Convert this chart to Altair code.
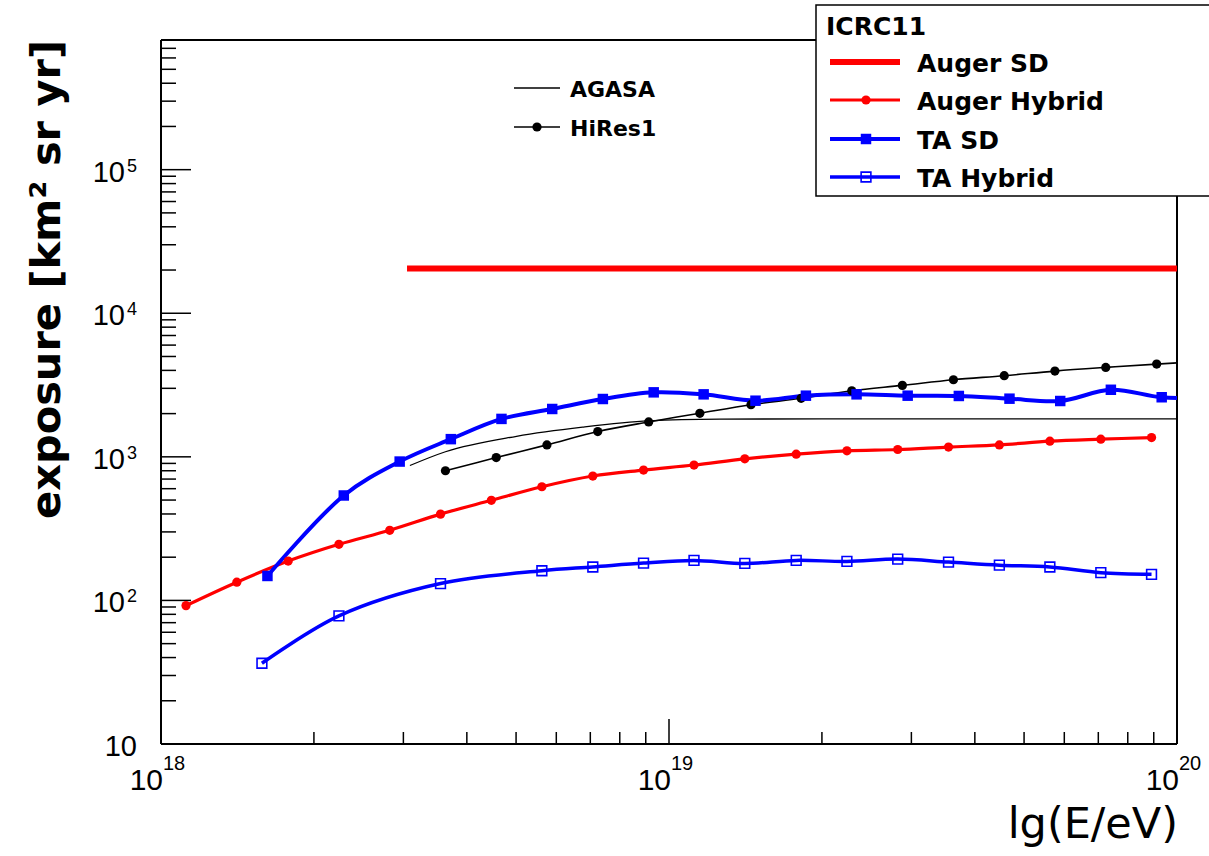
import altair as alt
import pandas as pd

# ---------------- data ----------------
auger_sd_E = [3.05e18, 1.0e20]
auger_sd_exposure = [20500, 20500]

auger_hybrid_E = [1.12e18, 1.41e18, 1.78e18, 2.24e18, 2.82e18, 3.55e18, 4.47e18, 5.62e18, 7.08e18, 8.91e18,
                  1.12e19, 1.41e19, 1.78e19, 2.24e19, 2.82e19, 3.55e19, 4.47e19, 5.62e19, 7.08e19, 8.91e19]
auger_hybrid_exposure = [92, 134, 188, 246, 308, 399, 498, 619, 735, 809,
                         877, 968, 1044, 1101, 1125, 1170, 1211, 1285, 1327, 1362]

ta_sd_E = [1.62e18, 2.29e18, 2.95e18, 3.72e18, 4.68e18, 5.89e18, 7.41e18, 9.33e18,
           1.17e19, 1.48e19, 1.86e19, 2.34e19, 2.95e19, 3.72e19, 4.68e19, 5.89e19, 7.41e19, 9.33e19, 1.17e20]
ta_sd_exposure = [148, 538, 927, 1328, 1837, 2154, 2528, 2813,
                  2724, 2460, 2666, 2724, 2666, 2654, 2541, 2448, 2931, 2600, 2560]

ta_hybrid_E = [1.58e18, 2.24e18, 3.55e18, 5.62e18, 7.08e18, 8.91e18, 1.12e19, 1.41e19,
               1.78e19, 2.24e19, 2.82e19, 3.55e19, 4.47e19, 5.62e19, 7.08e19, 8.91e19]
ta_hybrid_exposure = [36.5, 78, 131, 161, 171, 182, 190, 181, 190, 187, 194, 185, 176, 171, 156, 152]

hires1_E = [3.63e18, 4.57e18, 5.75e18, 7.24e18, 9.12e18, 1.15e19, 1.45e19, 1.82e19,
            2.29e19, 2.88e19, 3.63e19, 4.57e19, 5.75e19, 7.24e19, 9.12e19, 1.15e20]
hires1_exposure = [800, 988, 1211, 1500, 1750, 2011, 2306, 2557, 2885, 3145, 3443, 3672, 3956, 4197, 4426, 4650]

agasa_E = [3.09e18, 3.63e18, 5.01e18, 6.76e18, 9.12e18, 1.26e19, 2.0e19, 3.98e19, 1.0e20]
agasa_exposure = [870, 1085, 1390, 1610, 1780, 1830, 1840, 1840, 1840]

x_major_ticks = [1e18, 1e19, 1e20]
x_exp_labels = ["18", "19", "20"]
x_minor_ticks = [2e18, 3e18, 4e18, 5e18, 6e18, 7e18, 8e18, 9e18,
                 2e19, 3e19, 4e19, 5e19, 6e19, 7e19, 8e19, 9e19]
y_major_ticks = [10, 100, 1000, 10000, 100000]
y_exp_values = [100, 1000, 10000, 100000]
y_exp_labels = ["2", "3", "4", "5"]
y_minor_ticks = [20, 30, 40, 50, 60, 70, 80, 90,
                 200, 300, 400, 500, 600, 700, 800, 900,
                 2000, 3000, 4000, 5000, 6000, 7000, 8000, 9000,
                 20000, 30000, 40000, 50000, 60000, 70000, 80000, 90000,
                 200000, 300000, 400000, 500000, 600000, 700000]

legend_labels = ["Auger SD", "Auger Hybrid", "TA SD", "TA Hybrid"]
inner_legend_labels = ["AGASA", "HiRes1"]

# ---------------- chart ----------------
W, H = 1016, 704
FONT = "DejaVu Sans"
TFONT = "Liberation Sans"
RED = "#ff0000"
BLUE = "#0000ff"

xs = alt.Scale(type="log", domain=[1e18, 1e20])
ys = alt.Scale(type="log", domain=[10, 8e5])


def X():
    return alt.X("E:Q", scale=xs, axis=None)


def Y():
    return alt.Y("exposure:Q", scale=ys, axis=None)


def sdf(E, v):
    return pd.DataFrame({"E": E, "exposure": v})


dummy = pd.DataFrame({"k": [0]})
layers = []

# frame
base = alt.Chart(dummy)
layers += [
    base.mark_rule(color="black", strokeWidth=2).encode(x=alt.value(0), x2=alt.value(W), y=alt.value(0)),
    base.mark_rule(color="black", strokeWidth=2).encode(x=alt.value(0), x2=alt.value(W), y=alt.value(H)),
    base.mark_rule(color="black", strokeWidth=2).encode(x=alt.value(0), y=alt.value(0), y2=alt.value(H)),
    base.mark_rule(color="black", strokeWidth=2).encode(x=alt.value(W), y=alt.value(0), y2=alt.value(H)),
]

# ticks (inward)
layers += [
    alt.Chart(pd.DataFrame({"E": x_major_ticks})).mark_rule(color="black", strokeWidth=1.5)
    .encode(x=X(), y=alt.value(H), y2=alt.value(H - 25)),
    alt.Chart(pd.DataFrame({"E": x_minor_ticks})).mark_rule(color="black", strokeWidth=1.5)
    .encode(x=X(), y=alt.value(H), y2=alt.value(H - 12)),
    alt.Chart(pd.DataFrame({"exposure": y_major_ticks})).mark_rule(color="black", strokeWidth=1.5)
    .encode(y=Y(), x=alt.value(0), x2=alt.value(30)),
    alt.Chart(pd.DataFrame({"exposure": y_minor_ticks})).mark_rule(color="black", strokeWidth=1.5)
    .encode(y=Y(), x=alt.value(0), x2=alt.value(15)),
]

# tick labels
layers += [
    alt.Chart(pd.DataFrame({"E": x_major_ticks})).mark_text(
        text="10", align="right", baseline="alphabetic", font=TFONT, fontSize=30, dx=2, color="black")
    .encode(x=X(), y=alt.value(H + 46)),
    alt.Chart(pd.DataFrame({"E": x_major_ticks, "exp": x_exp_labels})).mark_text(
        align="left", baseline="alphabetic", font=TFONT, fontSize=20, dx=2, color="black")
    .encode(x=X(), y=alt.value(H + 26), text="exp:N"),
    alt.Chart(pd.DataFrame({"exposure": y_exp_values})).mark_text(
        text="10", align="right", baseline="alphabetic", font=TFONT, fontSize=29, dy=12, color="black")
    .encode(x=alt.value(-36), y=Y()),
    alt.Chart(pd.DataFrame({"exposure": y_exp_values, "exp": y_exp_labels})).mark_text(
        align="left", baseline="alphabetic", font=TFONT, fontSize=18, dy=2, color="black")
    .encode(x=alt.value(-34), y=Y(), text="exp:N"),
    alt.Chart(pd.DataFrame({"exposure": [10]})).mark_text(
        text="10", align="right", baseline="alphabetic", font=TFONT, fontSize=29, dy=12, color="black")
    .encode(x=alt.value(-24), y=Y()),
]

# data lines
layers += [
    alt.Chart(sdf(agasa_E, agasa_exposure)).mark_line(
        color="black", strokeWidth=1.3, interpolate="monotone", clip=True).encode(X(), Y()),
    alt.Chart(sdf(hires1_E, hires1_exposure)).mark_line(
        color="black", strokeWidth=1.6, interpolate="catmull-rom", clip=True).encode(X(), Y()),
    alt.Chart(sdf(auger_sd_E, auger_sd_exposure)).mark_line(
        color=RED, strokeWidth=6, clip=True).encode(X(), Y()),
    alt.Chart(sdf(auger_hybrid_E, auger_hybrid_exposure)).mark_line(
        color=RED, strokeWidth=3.2, interpolate="catmull-rom", clip=True).encode(X(), Y()),
    alt.Chart(sdf(ta_hybrid_E, ta_hybrid_exposure)).mark_line(
        color=BLUE, strokeWidth=3.5, interpolate="catmull-rom", clip=True).encode(X(), Y()),
    alt.Chart(sdf(ta_sd_E, ta_sd_exposure)).mark_line(
        color=BLUE, strokeWidth=4, interpolate="catmull-rom", clip=True).encode(X(), Y()),
]

# markers
flt = "datum.E <= 1e20"
layers += [
    alt.Chart(sdf(hires1_E, hires1_exposure)).transform_filter(flt).mark_point(
        shape="circle", filled=True, size=85, color="black", opacity=1).encode(X(), Y()),
    alt.Chart(sdf(auger_hybrid_E, auger_hybrid_exposure)).mark_point(
        shape="circle", filled=True, size=85, color=RED, opacity=1).encode(X(), Y()),
    alt.Chart(sdf(ta_hybrid_E, ta_hybrid_exposure)).mark_point(
        shape="square", filled=False, size=95, color=BLUE, strokeWidth=1.6, opacity=1).encode(X(), Y()),
    alt.Chart(sdf(ta_sd_E, ta_sd_exposure)).transform_filter(flt).mark_point(
        shape="square", filled=True, size=110, color=BLUE, opacity=1).encode(X(), Y()),
]

# inner legend (AGASA / HiRes1)
layers += [
    base.mark_rule(color="black", strokeWidth=1.3).encode(x=alt.value(353), x2=alt.value(399), y=alt.value(48)),
    base.mark_rule(color="black", strokeWidth=1.6).encode(x=alt.value(353), x2=alt.value(399), y=alt.value(87)),
    base.mark_point(shape="circle", filled=True, size=85, color="black", opacity=1)
    .encode(x=alt.value(376), y=alt.value(87)),
    base.mark_text(text=inner_legend_labels[0], align="left", baseline="alphabetic", font=FONT,
                   fontSize=22, fontWeight="bold", color="black").encode(x=alt.value(409), y=alt.value(57)),
    base.mark_text(text=inner_legend_labels[1], align="left", baseline="alphabetic", font=FONT,
                   fontSize=22, fontWeight="bold", color="black").encode(x=alt.value(409), y=alt.value(96)),
]

# legend box
LX1, LX2 = 669, 739
MX = 705
TX = 756
rows = [22, 60, 99, 137]
layers += [
    base.mark_rect(fill="white", stroke="black", strokeWidth=1.5)
    .encode(x=alt.value(655), x2=alt.value(1060), y=alt.value(-35), y2=alt.value(156)),
    base.mark_text(text="ICRC11", align="left", baseline="alphabetic", font=FONT, fontSize=25,
                   fontWeight="bold", color="black").encode(x=alt.value(665), y=alt.value(-5)),
    base.mark_rule(color=RED, strokeWidth=6).encode(x=alt.value(LX1), x2=alt.value(LX2), y=alt.value(rows[0])),
    base.mark_rule(color=RED, strokeWidth=3.2).encode(x=alt.value(LX1), x2=alt.value(LX2), y=alt.value(rows[1])),
    base.mark_point(shape="circle", filled=True, size=85, color=RED, opacity=1)
    .encode(x=alt.value(MX), y=alt.value(rows[1])),
    base.mark_rule(color=BLUE, strokeWidth=4).encode(x=alt.value(LX1), x2=alt.value(LX2), y=alt.value(rows[2])),
    base.mark_point(shape="square", filled=True, size=110, color=BLUE, opacity=1)
    .encode(x=alt.value(MX), y=alt.value(rows[2])),
    base.mark_rule(color=BLUE, strokeWidth=3.5).encode(x=alt.value(LX1), x2=alt.value(LX2), y=alt.value(rows[3])),
    base.mark_point(shape="square", filled=False, size=95, color=BLUE, strokeWidth=1.6, opacity=1)
    .encode(x=alt.value(MX), y=alt.value(rows[3])),
]
for lab, r in zip(legend_labels, rows):
    layers.append(
        base.mark_text(text=lab, align="left", baseline="alphabetic", font=FONT, fontSize=25,
                       fontWeight="bold", color="black").encode(x=alt.value(TX), y=alt.value(r + 10))
    )

# axis titles
layers += [
    base.mark_text(text="lg(E/eV)", align="right", baseline="alphabetic", font=FONT, fontSize=43,
                   color="black").encode(x=alt.value(W + 1), y=alt.value(798)),
    base.mark_text(text="exposure [km² sr yr]", align="right", baseline="alphabetic", angle=270,
                   font=FONT, fontSize=41.5, fontWeight="bold", color="black")
    .encode(x=alt.value(-101), y=alt.value(0)),
]

chart = alt.layer(*layers).properties(
    width=W,
    height=H,
    padding={"left": 161, "top": 40, "right": 32, "bottom": 112},
    autosize=alt.AutoSizeParams(type="none"),
    background="white",
).configure_view(strokeWidth=0)

chart.save("out.html", embed_options={"renderer": "svg", "actions": False})
